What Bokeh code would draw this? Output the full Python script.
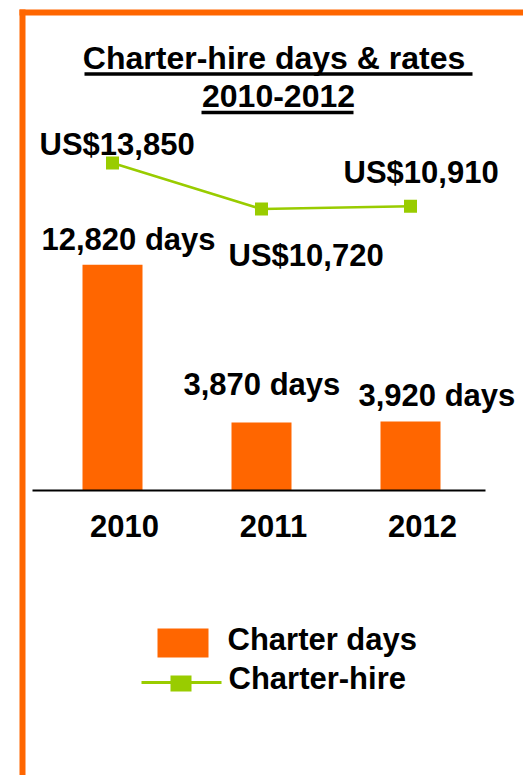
from bokeh.plotting import figure
from bokeh.models import Range1d
from bokeh.core.properties import value
from bokeh.embed import file_html
from bokeh.resources import INLINE

# ---- data ----
years = ["2010", "2011", "2012"]
charter_days = [12820, 3870, 3920]
charter_rates = [13850, 10720, 10910]
day_labels = ["12,820 days", "3,870 days", "3,920  days"]
rate_labels = ["US$13,850", "US$10,720", "US$10,910"]
title_lines = ["Charter-hire  days & rates", "2010-2012"]
legend_labels = ["Charter days", "Charter-hire"]

# ---- styles / layout ----
W, H = 523, 775
ORANGE = "#FF6600"
GREEN = "#99CC00"
FONT = value("Liberation Sans")
FS = value("31px")
TITLE_FS = value("32px")
TXT = -11             # baseline correction for rendered text

slot = 149.0          # px per category
x0_px = 112.0         # px of first category
x_start = -x0_px / slot
x_end = (W - x0_px) / slot
base_px = 490.0       # px of zero-days baseline
day_px = 0.0176       # px per day
y_start = -(H - base_px) / day_px
y_end = base_px / day_px
rate_px = 0.0147      # px per US$
rate_ref = 11826.7
rate_ref_py = 192.3
r_start = rate_ref - (H - rate_ref_py) / rate_px
r_end = rate_ref + rate_ref_py / rate_px


def px_x(px):
    return x_start + px / slot


def px_y(py):
    return (base_px - py) / day_px


idx = list(range(len(years)))

p = figure(width=W, height=H, x_range=Range1d(x_start, x_end),
           y_range=Range1d(y_start, y_end), output_backend="svg",
           toolbar_location=None, min_border=0, outline_line_color=None,
           x_axis_type=None, y_axis_type=None)
p.extra_y_ranges = {"rate": Range1d(r_start, r_end)}
p.background_fill_color = "white"
p.border_fill_color = "white"

# frame border (orange, top + left)
p.quad(left=[px_x(19)], right=[px_x(W + 10)], top=[px_y(9)], bottom=[px_y(15)],
       color=ORANGE, line_color=None)
p.quad(left=[px_x(19)], right=[px_x(25)], top=[px_y(9)], bottom=[px_y(H + 10)],
       color=ORANGE, line_color=None)

# title
p.text(x=[px_x(278)] * 2, y=[px_y(68 + TXT), px_y(106 + TXT)], text=title_lines,
       text_align="center", text_baseline="alphabetic", text_font=FONT,
       text_font_size=TITLE_FS, text_font_style="bold", text_color="black")
p.segment(x0=[px_x(84), px_x(201)], x1=[px_x(472), px_x(353)],
          y0=[px_y(73.5), px_y(112)], y1=[px_y(73.5), px_y(112)],
          line_color="black", line_width=3.5)

# bars
p.vbar(x=idx, top=charter_days, bottom=0, width=60 / slot, color=ORANGE,
       line_color=None)
# baseline axis
p.line(x=[px_x(32), px_x(485)], y=[0, 0], line_color="black", line_width=2)

# year labels
p.text(x=idx, y=[0] * len(idx), text=years, x_offset=12, y_offset=46 + TXT,
       text_align="center", text_baseline="alphabetic", text_font=FONT,
       text_font_size=FS, text_font_style="bold", text_color="black")

# day labels
day_dx = [-71, -78, -52]
day_dy = [-14 + TXT, -27 + TXT, -15 + TXT]
p.text(x=idx, y=charter_days, text=day_labels, x_offset=day_dx, y_offset=day_dy,
       text_align="left", text_baseline="alphabetic", text_font=FONT,
       text_font_size=FS, text_font_style="bold", text_color="black")

# rate line
p.line(x=idx, y=charter_rates, y_range_name="rate", line_color=GREEN,
       line_width=2.5)
p.scatter(x=idx, y=charter_rates, y_range_name="rate", marker="square",
          size=13, color=GREEN, line_color=None)
rate_dx = [-73, -33, -67]
rate_dy = [-8 + TXT, 57 + TXT, -23 + TXT]
p.text(x=idx, y=charter_rates, y_range_name="rate", text=rate_labels,
       x_offset=rate_dx, y_offset=rate_dy, text_align="left",
       text_baseline="alphabetic", text_font=FONT, text_font_size=FS,
       text_font_style="bold", text_color="black")

# legend (drawn manually)
p.rect(x=[px_x(182.5)], y=[px_y(642.5)], width=51, height=29,
       width_units="screen", height_units="screen", color=ORANGE, line_color=None)
p.line(x=[px_x(141), px_x(221)], y=[px_y(682)] * 2, line_color=GREEN,
       line_width=3)
p.rect(x=[px_x(180.5)], y=[px_y(683)], width=21, height=16,
       width_units="screen", height_units="screen", color=GREEN, line_color=None)
p.text(x=[px_x(227), px_x(228)], y=[px_y(650 + TXT), px_y(689 + TXT)],
       text=legend_labels, text_align="left", text_baseline="alphabetic",
       text_font=FONT, text_font_size=FS, text_font_style="bold",
       text_color="black")

open("out.html", "w").write(file_html(p, INLINE))
